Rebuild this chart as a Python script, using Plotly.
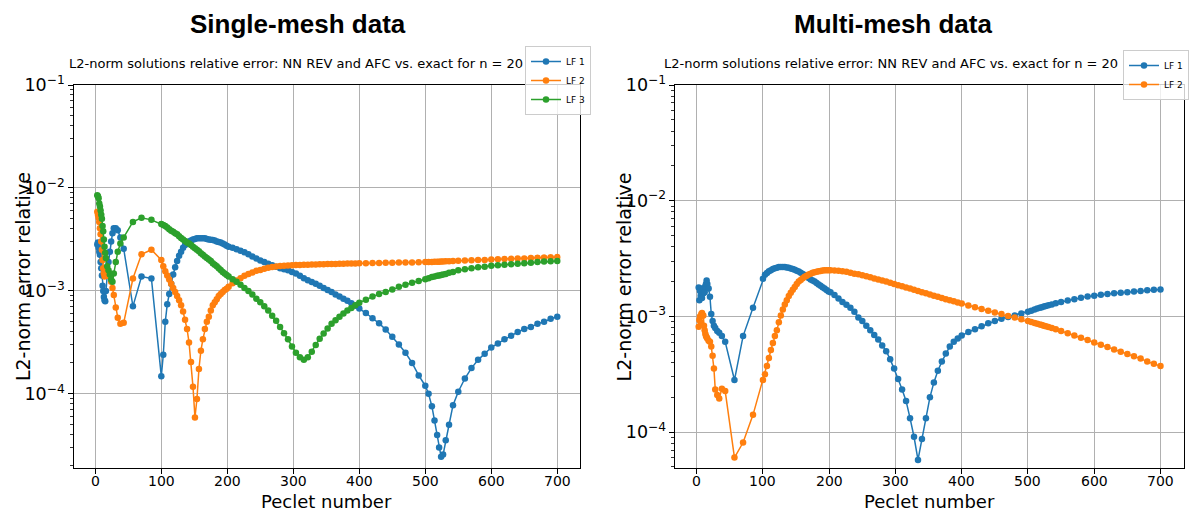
import plotly.graph_objects as go

W, H = 1190, 511

# Peclet numbers (sample points, shared by all series)
pe = [3, 4, 5, 6, 7, 8, 9, 10, 11, 12, 13, 14, 15, 16, 18, 20, 22, 24, 26, 28, 31, 34, 38, 43,
      57, 70, 85, 100,
      103, 106, 109, 112, 115, 118, 121, 124, 127, 130, 133, 136, 139, 142, 145, 148, 151, 154,
      157, 160, 163, 166, 169, 172, 175, 178, 181, 184, 187, 190, 193, 196, 199,
      202, 208, 214, 220, 226, 232, 238, 244, 250, 256, 262, 268, 274, 280, 286, 292, 298, 304,
      310, 316, 322, 328, 334, 340, 346, 352, 358, 364, 370, 376, 382, 388, 394,
      400, 410, 420, 430, 440, 450, 460, 470, 480, 490, 500, 505, 510, 514, 518, 521, 524, 527,
      531, 536, 542, 550, 560, 570, 580, 590, 600, 610, 620, 630, 640, 650, 660, 670, 680, 690, 700]

# ---- Single-mesh data ----
single_lf1 = [2.82e-3, 2.95e-3, 2.63e-3, 2.40e-3, 2.24e-3, 1.91e-3, 1.66e-3, 1.41e-3, 1.12e-3, 1.00e-3,
              8.71e-4, 8.13e-4, 7.94e-4, 1.00e-3, 1.41e-3, 1.91e-3, 2.40e-3, 3.02e-3, 3.63e-3, 4.07e-3,
              4.07e-3, 3.89e-3, 3.31e-3, 2.57e-3,
              7.08e-4, 1.38e-3, 1.32e-3, 1.48e-4,
              2.40e-4, 5.01e-4, 7.41e-4, 9.33e-4, 1.175e-3, 1.445e-3, 1.70e-3, 1.95e-3, 2.19e-3, 2.40e-3,
              2.63e-3, 2.79e-3, 2.92e-3, 3.02e-3, 3.09e-3, 3.16e-3, 3.20e-3, 3.24e-3, 3.24e-3, 3.24e-3,
              3.24e-3, 3.24e-3, 3.20e-3, 3.16e-3, 3.14e-3, 3.12e-3, 3.09e-3, 3.02e-3, 2.99e-3, 2.95e-3,
              2.88e-3, 2.82e-3, 2.75e-3,
              2.69e-3, 2.63e-3, 2.54e-3, 2.455e-3, 2.37e-3, 2.265e-3, 2.16e-3, 2.065e-3, 1.97e-3, 1.91e-3,
              1.84e-3, 1.78e-3, 1.72e-3, 1.66e-3, 1.62e-3, 1.585e-3, 1.53e-3, 1.48e-3, 1.40e-3, 1.33e-3,
              1.27e-3, 1.22e-3, 1.175e-3, 1.12e-3, 1.07e-3, 1.02e-3, 9.77e-4, 9.23e-4, 8.81e-4, 8.41e-4,
              8.04e-4, 7.59e-4, 7.16e-4,
              6.76e-4, 6.10e-4, 5.43e-4, 4.84e-4, 4.22e-4, 3.59e-4, 3.02e-4, 2.51e-4, 2.00e-4, 1.51e-4,
              1.20e-4, 1.00e-4, 7.59e-5, 5.50e-5, 3.98e-5, 3.02e-5, 2.45e-5, 2.57e-5, 3.55e-5, 5.01e-5,
              7.76e-5, 1.05e-4, 1.41e-4, 1.78e-4, 2.14e-4, 2.45e-4, 2.82e-4, 3.09e-4, 3.39e-4, 3.67e-4,
              3.98e-4, 4.27e-4, 4.47e-4, 4.79e-4, 5.01e-4, 5.37e-4, 5.62e-4]

single_lf2 = [5.89e-3, 5.50e-3, 5.13e-3, 4.68e-3, 4.07e-3, 3.55e-3, 3.02e-3, 2.51e-3, 2.00e-3, 1.66e-3,
              1.48e-3, 1.38e-3, 1.41e-3, 1.48e-3, 1.55e-3, 1.51e-3, 1.38e-3, 1.23e-3, 1.07e-3, 9.12e-4,
              6.92e-4, 5.50e-4, 4.79e-4, 4.90e-4,
              1.32e-3, 2.265e-3, 2.51e-3, 2.00e-3,
              1.74e-3, 1.55e-3, 1.41e-3, 1.29e-3, 1.175e-3, 1.07e-3, 9.77e-4, 8.91e-4, 8.13e-4, 7.24e-4,
              6.31e-4, 5.25e-4, 4.27e-4, 3.16e-4, 2.04e-4, 1.175e-4, 5.89e-5, 8.91e-5, 1.74e-4, 2.63e-4,
              3.39e-4, 4.27e-4, 5.01e-4, 5.62e-4, 6.46e-4, 7.24e-4, 7.76e-4, 8.32e-4, 8.91e-4, 9.33e-4,
              9.77e-4, 1.02e-3, 1.05e-3,
              1.10e-3, 1.19e-3, 1.26e-3, 1.33e-3, 1.40e-3, 1.46e-3, 1.51e-3, 1.57e-3, 1.60e-3, 1.64e-3,
              1.68e-3, 1.71e-3, 1.73e-3, 1.75e-3, 1.76e-3, 1.77e-3, 1.78e-3, 1.79e-3, 1.79e-3, 1.80e-3,
              1.80e-3, 1.81e-3, 1.81e-3, 1.815e-3, 1.82e-3, 1.825e-3, 1.83e-3, 1.83e-3, 1.835e-3, 1.84e-3,
              1.845e-3, 1.85e-3, 1.85e-3,
              1.86e-3, 1.86e-3, 1.87e-3, 1.87e-3, 1.875e-3, 1.88e-3, 1.885e-3, 1.89e-3, 1.89e-3, 1.90e-3,
              1.905e-3, 1.91e-3, 1.91e-3, 1.92e-3, 1.92e-3, 1.925e-3, 1.93e-3, 1.935e-3, 1.94e-3, 1.945e-3,
              1.95e-3, 1.96e-3, 1.97e-3, 1.98e-3, 1.995e-3, 2.00e-3, 2.02e-3, 2.03e-3, 2.04e-3, 2.05e-3,
              2.06e-3, 2.07e-3, 2.09e-3, 2.10e-3, 2.11e-3, 2.12e-3, 2.13e-3]

single_lf3 = [8.51e-3, 8.32e-3, 7.94e-3, 7.08e-3, 6.61e-3, 6.03e-3, 5.50e-3, 5.01e-3, 4.27e-3, 3.80e-3,
              3.16e-3, 2.69e-3, 2.34e-3, 2.09e-3, 1.74e-3, 1.585e-3, 1.445e-3, 1.29e-3, 1.23e-3, 1.48e-3,
              1.91e-3, 2.40e-3, 2.88e-3, 3.31e-3,
              4.68e-3, 5.13e-3, 4.90e-3, 4.47e-3,
              4.37e-3, 4.27e-3, 4.12e-3, 3.98e-3, 3.85e-3, 3.76e-3, 3.63e-3, 3.55e-3, 3.39e-3, 3.27e-3,
              3.16e-3, 3.05e-3, 2.95e-3, 2.88e-3, 2.79e-3, 2.69e-3, 2.60e-3, 2.51e-3, 2.43e-3, 2.32e-3,
              2.24e-3, 2.16e-3, 2.09e-3, 2.02e-3, 1.95e-3, 1.86e-3, 1.80e-3, 1.74e-3, 1.66e-3, 1.60e-3,
              1.53e-3, 1.48e-3, 1.43e-3,
              1.38e-3, 1.30e-3, 1.23e-3, 1.15e-3, 1.07e-3, 1.00e-3, 9.23e-4, 8.41e-4, 7.76e-4, 7.08e-4,
              6.46e-4, 5.75e-4, 5.13e-4, 4.47e-4, 3.89e-4, 3.39e-4, 2.88e-4, 2.51e-4, 2.265e-4, 2.14e-4,
              2.265e-4, 2.57e-4, 2.99e-4, 3.43e-4, 3.85e-4, 4.32e-4, 4.79e-4, 5.19e-4, 5.62e-4, 6.03e-4,
              6.46e-4, 6.84e-4, 7.24e-4,
              7.67e-4, 8.22e-4, 8.81e-4, 9.33e-4, 9.77e-4, 1.035e-3, 1.10e-3, 1.15e-3, 1.20e-3, 1.245e-3,
              1.30e-3, 1.33e-3, 1.365e-3, 1.38e-3, 1.40e-3, 1.41e-3, 1.43e-3, 1.445e-3, 1.46e-3, 1.50e-3,
              1.53e-3, 1.585e-3, 1.62e-3, 1.66e-3, 1.70e-3, 1.72e-3, 1.76e-3, 1.78e-3, 1.80e-3, 1.82e-3,
              1.84e-3, 1.86e-3, 1.88e-3, 1.905e-3, 1.93e-3, 1.94e-3, 1.95e-3]

# ---- Multi-mesh data ----
multi_lf1 = [1.78e-3, 1.38e-3, 1.66e-3, 1.51e-3, 1.74e-3, 1.445e-3, 1.66e-3, 1.585e-3, 1.74e-3, 1.62e-3,
             1.82e-3, 1.91e-3, 2.04e-3, 1.91e-3, 1.74e-3, 1.48e-3, 1.05e-3, 9.12e-4, 8.32e-4, 7.94e-4,
             7.50e-4, 7.24e-4, 6.76e-4, 6.03e-4,
             2.82e-4, 6.76e-4, 1.19e-3, 2.12e-3,
             2.29e-3, 2.37e-3, 2.455e-3, 2.51e-3, 2.57e-3, 2.61e-3, 2.64e-3, 2.67e-3, 2.68e-3, 2.68e-3,
             2.67e-3, 2.65e-3, 2.63e-3, 2.60e-3, 2.57e-3, 2.53e-3, 2.48e-3, 2.44e-3, 2.39e-3, 2.33e-3,
             2.275e-3, 2.21e-3, 2.15e-3, 2.09e-3, 2.04e-3, 2.00e-3, 1.94e-3, 1.89e-3, 1.84e-3, 1.79e-3,
             1.74e-3, 1.69e-3, 1.64e-3,
             1.62e-3, 1.53e-3, 1.43e-3, 1.33e-3, 1.26e-3, 1.19e-3, 1.10e-3, 9.77e-4, 9.12e-4, 8.32e-4,
             7.59e-4, 6.92e-4, 6.31e-4, 5.62e-4, 5.01e-4, 4.27e-4, 3.55e-4, 2.88e-4, 2.34e-4, 1.86e-4,
             1.32e-4, 9.12e-5, 5.75e-5, 8.71e-5, 1.32e-4, 2.00e-4, 2.69e-4, 3.39e-4, 4.07e-4, 4.79e-4,
             5.50e-4, 6.03e-4, 6.46e-4,
             6.84e-4, 7.33e-4, 7.76e-4, 8.22e-4, 8.71e-4, 9.12e-4, 9.55e-4, 9.89e-4, 1.02e-3, 1.06e-3,
             1.10e-3, 1.12e-3, 1.15e-3, 1.17e-3, 1.19e-3, 1.20e-3, 1.22e-3, 1.23e-3, 1.25e-3, 1.27e-3,
             1.30e-3, 1.33e-3, 1.37e-3, 1.41e-3, 1.45e-3, 1.49e-3, 1.51e-3, 1.54e-3, 1.56e-3, 1.585e-3,
             1.60e-3, 1.62e-3, 1.64e-3, 1.66e-3, 1.68e-3, 1.70e-3, 1.71e-3]

multi_lf2 = [8.13e-4, 9.33e-4, 1.00e-3, 8.91e-4, 1.05e-3, 1.07e-3, 1.02e-3, 1.02e-3, 8.32e-4, 7.59e-4,
             7.08e-4, 6.76e-4, 6.61e-4, 6.46e-4, 6.17e-4, 6.03e-4, 5.50e-4, 4.57e-4, 3.55e-4, 2.34e-4,
             2.09e-4, 1.95e-4, 2.37e-4, 2.265e-4,
             6.03e-5, 8.13e-5, 1.41e-4, 2.82e-4,
             3.16e-4, 3.72e-4, 4.37e-4, 5.13e-4, 5.89e-4, 6.76e-4, 7.59e-4, 8.91e-4, 1.02e-3, 1.15e-3,
             1.27e-3, 1.38e-3, 1.50e-3, 1.60e-3, 1.70e-3, 1.80e-3, 1.91e-3, 2.00e-3, 2.065e-3, 2.14e-3,
             2.20e-3, 2.25e-3, 2.30e-3, 2.34e-3, 2.38e-3, 2.41e-3, 2.43e-3, 2.455e-3, 2.47e-3, 2.49e-3,
             2.50e-3, 2.51e-3, 2.51e-3,
             2.51e-3, 2.49e-3, 2.48e-3, 2.455e-3, 2.43e-3, 2.38e-3, 2.34e-3, 2.31e-3, 2.265e-3, 2.22e-3,
             2.18e-3, 2.13e-3, 2.09e-3, 2.04e-3, 2.00e-3, 1.95e-3, 1.91e-3, 1.86e-3, 1.82e-3, 1.78e-3,
             1.74e-3, 1.70e-3, 1.66e-3, 1.62e-3, 1.585e-3, 1.55e-3, 1.51e-3, 1.48e-3, 1.445e-3, 1.41e-3,
             1.38e-3, 1.35e-3, 1.32e-3,
             1.29e-3, 1.245e-3, 1.20e-3, 1.16e-3, 1.12e-3, 1.08e-3, 1.05e-3, 1.01e-3, 9.77e-4, 9.44e-4,
             9.12e-4, 8.95e-4, 8.79e-4, 8.65e-4, 8.51e-4, 8.41e-4, 8.32e-4, 8.22e-4, 8.09e-4, 7.94e-4,
             7.76e-4, 7.50e-4, 7.16e-4, 6.84e-4, 6.53e-4, 6.24e-4, 5.96e-4, 5.69e-4, 5.43e-4, 5.19e-4,
             4.95e-4, 4.73e-4, 4.52e-4, 4.32e-4, 4.07e-4, 3.89e-4, 3.72e-4]

series_names = ["LF 1", "LF 2", "LF 3"]
colors = ["#1f77b4", "#ff7f0e", "#2ca02c"]
x_ticks = [0, 100, 200, 300, 400, 500, 600, 700]
x_tick_labels = ["0", "100", "200", "300", "400", "500", "600", "700"]
panel_titles = ["Single-mesh data", "Multi-mesh data"]
subtitle = "L2-norm solutions relative error: NN REV and AFC vs. exact for n = 20"
x_label = "Peclet number"
y_label = "L2-norm error relative"

FONT = "DejaVu Sans, Verdana, sans-serif"

fig = go.Figure()

panels = [
    dict(data=[single_lf1, single_lf2, single_lf3], xa="x", ya="y", legend="legend"),
    dict(data=[multi_lf1, multi_lf2], xa="x2", ya="y2", legend="legend2"),
]
for p in panels:
    for i, ys in enumerate(p["data"]):
        fig.add_trace(go.Scatter(
            x=pe, y=ys, mode="lines+markers", name=series_names[i],
            line=dict(color=colors[i], width=1.5),
            marker=dict(color=colors[i], size=6.5),
            xaxis=p["xa"], yaxis=p["ya"], legend=p["legend"]))

# axes geometry in pixels
L_X0, L_X1 = 73.6, 580.3
R_X0, R_X1 = 674.9, 1183.6
Y_TOP, Y_BOT = 85, 468

def px(x):
    return x / W

def py(y):
    return 1 - y / H

common_x = dict(range=[-32.9, 734.9], tickvals=x_ticks, ticks="outside", ticklen=5, tickwidth=1,
                tickcolor="black", showline=True, linecolor="black", linewidth=1, mirror=True,
                showgrid=True, gridcolor="#b0b0b0", gridwidth=1, zeroline=False,
                showticklabels=False)
common_y = dict(type="log", dtick=1, exponentformat="power", ticks="outside", ticklen=5, tickwidth=1,
                tickcolor="black", showline=True, linecolor="black", linewidth=1, mirror=True,
                showgrid=True, gridcolor="#b0b0b0", gridwidth=1, zeroline=False,
                tickfont=dict(family=FONT, size=14, color="black"),
                minor=dict(ticks="outside", ticklen=3, tickwidth=1, tickcolor="#333333", dtick="D1",
                           showgrid=False))

legend_common = dict(xanchor="right", yanchor="top", bgcolor="rgba(255,255,255,0.8)",
                     bordercolor="#cccccc", borderwidth=1,
                     font=dict(family=FONT, size=9, color="black"), itemwidth=30, tracegroupgap=0)

fig.update_layout(
    width=W, height=H, margin=dict(l=0, r=0, t=0, b=0, autoexpand=False),
    paper_bgcolor="white", plot_bgcolor="white",
    xaxis=dict(domain=[px(L_X0), px(L_X1)], anchor="y", **common_x),
    yaxis=dict(domain=[py(Y_BOT), py(Y_TOP)], anchor="x", range=[-4.72, -1], **common_y),
    xaxis2=dict(domain=[px(R_X0), px(R_X1)], anchor="y2", **common_x),
    yaxis2=dict(domain=[py(Y_BOT), py(Y_TOP)], anchor="x2", range=[-4.31, -1], **common_y),
    legend=dict(x=px(591), y=py(46), **legend_common),
    legend2=dict(x=px(1189), y=py(50), **legend_common),
    showlegend=True,
)

annotations = []
for k, (cx, ax0, ax1, xref) in enumerate([(297.5, L_X0, L_X1, "x"), (892.5, R_X0, R_X1, "x2")]):
    annotations.append(dict(text="<b>" + panel_titles[k] + "</b>", x=px(cx), y=py(24),
                            xref="paper", yref="paper", xanchor="center", yanchor="middle",
                            showarrow=False, font=dict(family="Liberation Sans, Arial, sans-serif",
                                                        size=26, color="black")))
    annotations.append(dict(text=subtitle, x=px(cx - 2), y=py(63), xref="paper", yref="paper",
                            xanchor="center", yanchor="middle", showarrow=False,
                            font=dict(family=FONT, size=13, color="black")))
    annotations.append(dict(text=x_label, x=px((ax0 + ax1) / 2), y=py(501), xref="paper", yref="paper",
                            xanchor="center", yanchor="middle", showarrow=False,
                            font=dict(family=FONT, size=18, color="black")))
    annotations.append(dict(text=y_label, x=px(ax0 - 51), y=py((Y_TOP + Y_BOT) / 2), xref="paper",
                            yref="paper", xanchor="center", yanchor="middle", textangle=-90,
                            showarrow=False, font=dict(family=FONT, size=19, color="black")))
    for tv, tl in zip(x_ticks, x_tick_labels):
        annotations.append(dict(text=tl, x=tv, y=py(481), xref=xref, yref="paper",
                                xanchor="center", yanchor="middle", showarrow=False,
                                font=dict(family=FONT, size=14, color="black")))
fig.update_layout(annotations=annotations)

fig.write_html("out.html")
